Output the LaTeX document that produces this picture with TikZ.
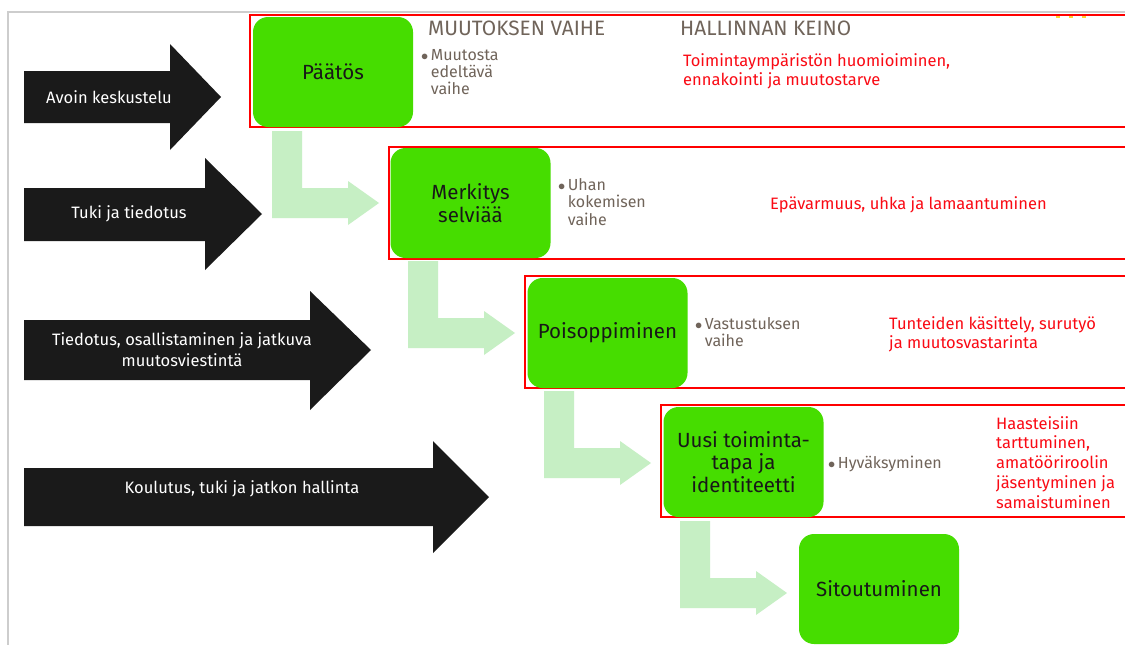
\documentclass[tikz,border=0pt]{standalone}
\usepackage{fontspec}
\setmainfont{Fira Sans}
\definecolor{stagegreen}{RGB}{70,221,0}
\definecolor{flowgreen}{RGB}{198,239,196}
\definecolor{arrowblack}{RGB}{26,26,26}
\definecolor{boxtext}{RGB}{24,24,24}
\definecolor{phasegray}{RGB}{112,100,90}
\definecolor{meansred}{RGB}{250,10,20}
\definecolor{framered}{RGB}{255,0,0}
\definecolor{edgegray}{RGB}{205,205,205}
\definecolor{dotyellow}{RGB}{255,212,50}
% stacked lines, first baseline at the node's base
\newcommand\stackl[1]{\begin{tabular}[t]{@{}l@{}}#1\end{tabular}}
% bulleted item with hanging lines
\newcommand\bulletl[1]{\begin{tabular}[t]{@{}l@{\hspace{2.5pt}}l@{}}{\fontsize{14}{14}\selectfont$\bullet$}&#1\end{tabular}}
\begin{document}
\begin{tikzpicture}[x=1pt,y=-1pt,
  stagebox/.style={fill=stagegreen, rounded corners=15pt, minimum width=160pt,
    minimum height=110pt, inner sep=0pt, align=center, text=boxtext,
    font=\fontsize{20.5}{22.5}\selectfont},
  phaseframe/.style={draw=framered, line width=2pt},
  flowarrow/.style={fill=flowgreen},
  leadarrow/.style={fill=arrowblack},
  leadtext/.style={text=white, align=center, inner sep=0pt,
    font=\fontsize{16.5}{21}\selectfont},
  headtext/.style={text=phasegray, anchor=west, inner sep=0pt,
    font=\fontsize{20.8}{22}\selectfont},
  phasetext/.style={text=phasegray, anchor=base west, inner sep=0pt,
    font=\fontsize{16}{17}\selectfont},
  meanstext/.style={text=meansred, anchor=base west, inner sep=0pt,
    font=\fontsize{16.5}{19.8}\selectfont},
]
\useasboundingbox (0,0) rectangle (1125,645);
\clip (0,0) rectangle (1125,645);
\fill[white] (0,0) rectangle (1125,645);

% slide edge
\draw[edgegray, line width=1.5pt] (8,650) -- (8,12) -- (1130,12);

% small decorative marks at the top right
\foreach \dx in {1058,1071,1084}
  \fill[dotyellow] (\dx-2,15.5) rectangle (\dx+2,18);

% rows: phase frames
\draw[phaseframe] (250,15) rectangle (1130,127);
\draw[phaseframe] (389,147) rectangle (1130,259);
\draw[phaseframe] (525,276) rectangle (1130,388);
\draw[phaseframe] (661,405) rectangle (1130,517);

% black lead arrows
\fill[leadarrow] (24,71) -- (170,71) -- (170,44) -- (221,97) -- (170,150) -- (170,123) -- (24,123) -- cycle;
\fill[leadarrow] (24,188) -- (205,188) -- (205,158) -- (262,214) -- (205,270) -- (205,241) -- (24,241) -- cycle;
\fill[leadarrow] (24,320) -- (310,320) -- (310,291) -- (371,350) -- (310,410) -- (310,380) -- (24,380) -- cycle;
\fill[leadarrow] (24,468) -- (433,468) -- (433,441) -- (489,497) -- (433,553) -- (433,526) -- (24,526) -- cycle;

\node[leadtext] (l1) at (109,97) {Avoin keskustelu};
\node[leadtext] (l2) at (129,214) {Tuki ja tiedotus};
\node[leadtext] (l3) at (182,350) {Tiedotus, osallistaminen ja jatkuva\\muutosviestintä};
\node[leadtext] (l4) at (242,489) {Koulutus, tuki ja jatkon hallinta};

% light green bent arrows between the stages
\foreach \k in {0,...,3} {
  \begin{scope}[shift={(136*\k,130*\k)}]
    \fill[flowarrow] (272,131) -- (302,131) -- (302,188) -- (348,188) -- (348,181)
      -- (379,203) -- (348,225) -- (348,218) -- (272,218) -- cycle;
  \end{scope}
}

% stages
\node[stagebox] (s1) at (333,72) {Päätös};
\node[stagebox] (s2) at (470.5,203) {Merkitys\\selviää};
\node[stagebox] (s3) at (607.5,333) {Poisoppiminen};
\node[stagebox] (s4) at (743.5,462) {Uusi toiminta-\\tapa ja\\identiteetti};
\node[stagebox] (s5) at (879,589) {Sitoutuminen};

% column headings
\node[headtext] (h1) at (428,28.5) {MUUTOKSEN VAIHE};
\node[headtext] (h2) at (680,28.5) {HALLINNAN KEINO};

% phase descriptions
\node[phasetext] (p1) at (421,60) {\bulletl{Muutosta\\&edeltävä\\&vaihe}};
\node[phasetext] (p2) at (558,190) {\bulletl{Uhan\\&kokemisen\\&vaihe}};
\node[phasetext] (p3) at (695,329) {\bulletl{Vastustuksen\\&vaihe}};
\node[phasetext] (p4) at (828,468) {\bulletl{Hyväksyminen}};

% management means
\node[meanstext] (m1) at (683,66) {\stackl{Toimintaympäristön huomioiminen,\\ennakointi ja muutostarve}};
\node[meanstext] (m2) at (770,209) {Epävarmuus, uhka ja lamaantuminen};
\node[meanstext] (m3) at (889,329) {\stackl{Tunteiden käsittely, surutyö\\ja muutosvastarinta}};
\node[meanstext] (m4) at (996,429) {\stackl{Haasteisiin\\tarttuminen,\\amatööriroolin\\jäsentyminen ja\\samaistuminen}};
\end{tikzpicture}
\end{document}
